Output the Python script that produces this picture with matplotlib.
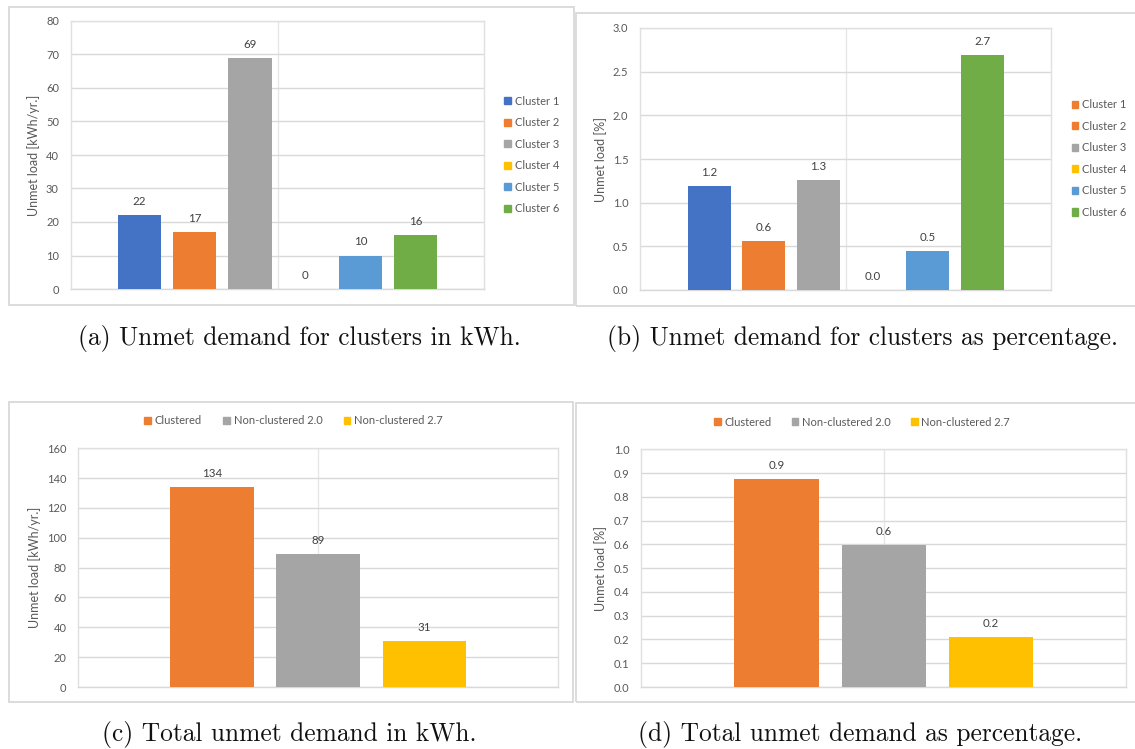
from matplotlib import pyplot as plt
from matplotlib.patches import Patch, Rectangle
from matplotlib.ticker import FormatStrFormatter
import numpy as np

# per-cluster results
clusters = ['Cluster 1', 'Cluster 2', 'Cluster 3', 'Cluster 4', 'Cluster 5', 'Cluster 6']
cluster_colors = ['#4472C4', '#ED7D31', '#A5A5A5', '#FFC000', '#5B9BD5', '#70AD47']
unmet_kwh = [22, 17, 69, 0, 10, 16]
unmet_kwh_labels = ['22', '17', '69', '0', '10', '16']
unmet_pct = [1.19, 0.56, 1.26, 0.0, 0.45, 2.69]
unmet_pct_labels = ['1.2', '0.6', '1.3', '0.0', '0.5', '2.7']
# the legend of (b) shows cluster 1 in orange in the original figure
legend_colors_b = ['#ED7D31', '#ED7D31', '#A5A5A5', '#FFC000', '#5B9BD5', '#70AD47']

# totals
scenarios = ['Clustered', 'Non-clustered 2.0', 'Non-clustered 2.7']
scenario_colors = ['#ED7D31', '#A5A5A5', '#FFC000']
total_kwh = [134, 89, 31]
total_kwh_labels = ['134', '89', '31']
total_pct = [0.875, 0.597, 0.209]
total_pct_labels = ['0.9', '0.6', '0.2']

W, H = 1135, 749
GRID = '#d9d9d9'
TXT = '#595959'

plt.rcParams['font.family'] = ['Lato', 'DejaVu Sans']


def box(l, t, r, b):
    # pixel box -> figure fraction
    return [l / W, 1 - b / H, (r - l) / W, (b - t) / H]


def bar_panel(fig, rect, values, labels, colors, ymax, ystep, fmt,
              ylabel, ylabel_x, half):
    ax = fig.add_axes(box(*rect))
    x = np.arange(len(values))
    ax.bar(x, values, width=0.787, color=colors, zorder=3)
    for xi, v, lab in zip(x, values, labels):
        ax.annotate(lab, (xi, v), xytext=(0, 9.8), textcoords='offset points',
                    ha='center', va='center', fontsize=8.3, color='#404040')
    mid = (len(values) - 1) / 2.
    ax.set_xlim(mid - half, mid + half)
    ax.set_ylim(0, ymax)
    ax.set_yticks(np.arange(0, ymax + ystep / 2., ystep))
    ax.yaxis.set_major_formatter(FormatStrFormatter(fmt))
    ax.set_xticks([])
    ax.grid(axis='y', color=GRID, lw=1.0, zorder=0)
    ax.axvline(mid, color='#e6e6e6', lw=1.0, zorder=0)
    for s in ax.spines.values():
        s.set_color('#e0e0e0')
        s.set_linewidth(1.0)
    ax.spines['bottom'].set_color(GRID)
    ax.tick_params(axis='y', length=0, pad=8.5, labelsize=8, labelcolor=TXT)
    ax.set_ylabel(ylabel, fontsize=9, color=TXT)
    # label_x is where the (rotated) label's right side sits
    ax.yaxis.set_label_coords((ylabel_x - rect[0]) / (rect[2] - rect[0]), 0.5)
    return ax


def frame(fig, l, t, r, b):
    fig.add_artist(Rectangle((l / W, 1 - b / H), (r - l) / W, (b - t) / H,
                             transform=fig.transFigure, fill=False,
                             edgecolor=GRID, lw=1.3))


def main():
    fig = plt.figure(figsize=(W / 100., H / 100.), dpi=100)

    frame(fig, 8.5, 6.7, 574, 305)
    frame(fig, 575.5, 13.3, 1140, 305.7)
    frame(fig, 9.2, 401.7, 573.4, 702.3)
    frame(fig, 575.8, 403.3, 1140, 702.3)

    #(a) and (b)
    bar_panel(fig, (70.7, 21, 484.3, 289), unmet_kwh, unmet_kwh_labels,
              cluster_colors, 80, 10, '%d', 'Unmet load [kWh/yr.]', 40, 3.745)
    bar_panel(fig, (640.3, 28, 1051.4, 290), unmet_pct, unmet_pct_labels,
              cluster_colors, 3.0, 0.5, '%.1f', 'Unmet load [%]', 607.5, 3.76)

    leg_kw = dict(frameon=False, fontsize=8, handlelength=0.6, handleheight=0.6,
                  handletextpad=0.35, borderpad=0, borderaxespad=0,
                  labelcolor=TXT)
    fig.legend([Patch(color=c) for c in cluster_colors], clusters,
               loc='center left', bbox_to_anchor=(504 / W, 1 - 155 / H),
               labelspacing=0.95, **leg_kw)
    fig.legend([Patch(color=c) for c in legend_colors_b], clusters,
               loc='center left', bbox_to_anchor=(1071.5 / W, 1 - 158.5 / H),
               labelspacing=0.95, **leg_kw)

    #(c) and (d)
    bar_panel(fig, (78.4, 448.3, 557.9, 687), total_kwh, total_kwh_labels,
              scenario_colors, 160, 20, '%d', 'Unmet load [kWh/yr.]', 41, 2.255)
    bar_panel(fig, (641.4, 449.3, 1126, 687), total_pct, total_pct_labels,
              scenario_colors, 1.0, 0.1, '%.1f', 'Unmet load [%]', 607.5, 2.26)

    handles = [Patch(color=c) for c in scenario_colors]
    fig.legend(handles, scenarios, loc='center', ncol=3, columnspacing=1.9,
               bbox_to_anchor=(293.6 / W, 1 - 421 / H), **leg_kw)
    fig.legend(handles, scenarios, loc='center', ncol=3, columnspacing=1.8,
               bbox_to_anchor=(862 / W, 1 - 422.3 / H), **leg_kw)

    captions = [(299, 345, '(a) Unmet demand for clusters in kWh.'),
                (862.5, 345, '(b) Unmet demand for clusters as percentage.'),
                (289, 741.5, '(c) Total unmet demand in kWh.'),
                (860, 741.5, '(d) Total unmet demand as percentage.')]
    for cx, cy, txt in captions:
        fig.text(cx / W, 1 - cy / H, txt, fontfamily='cmr10', fontsize=18.3,
                 ha='center', va='baseline', color='#111111')

    fig.savefig('out.png', dpi=100)
    plt.close()


if __name__ == '__main__':
    main()
